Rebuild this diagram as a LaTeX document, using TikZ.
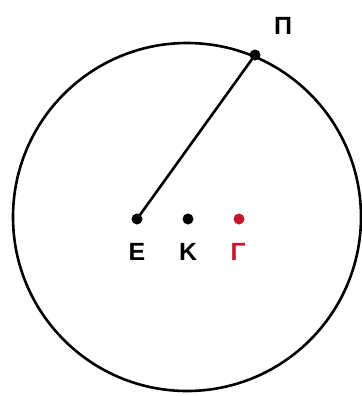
\documentclass[tikz,border=0pt]{standalone}
\usepackage{fontspec}
\setmainfont{Liberation Sans}
\definecolor{gred}{RGB}{196,22,44}
\tikzset{
  pt/.style={circle,fill=black,inner sep=0pt,minimum size=11bp},
  lab/.style={font=\fontsize{25}{25}\selectfont\bfseries,inner sep=0pt,anchor=base},
  ln/.style={line width=2.6bp}
}
\begin{document}
\begin{tikzpicture}[x=1bp,y=-1bp]
\useasboundingbox (0,0) rectangle (362,396);
\coordinate (O) at (187,217);
\draw[ln] (O) circle[radius=174];
\node[pt] (E) at (137,219) {};
\node[pt] (K) at (188,219) {};
\node[pt,fill=gred] (G) at (239,219) {};
\node[pt] (P) at (255,55) {};
\draw[ln] (E.center) -- (P.center);
\node[lab] (lE) at (137,260) {Ε};
\node[lab] (lK) at (188,260) {Κ};
\node[lab,text=gred] (lG) at (238,260) {Γ};
\node[lab] (lP) at (283,34) {Π};
\end{tikzpicture}
\end{document}
